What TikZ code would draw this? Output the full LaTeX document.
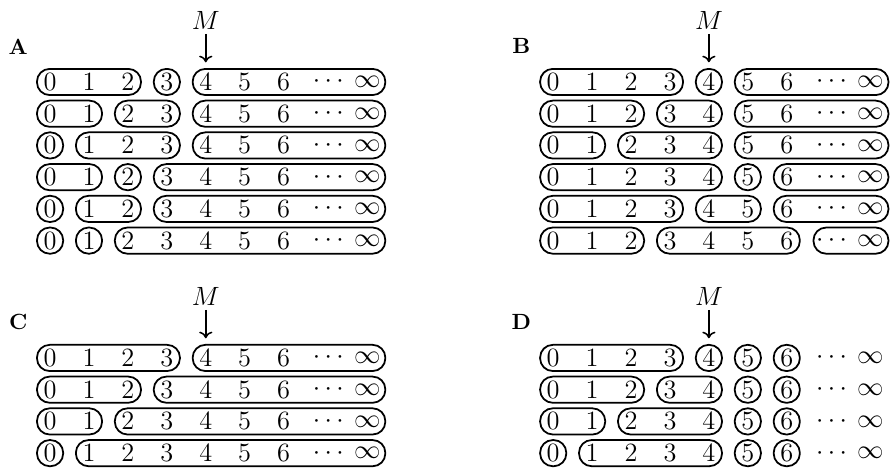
\documentclass[tikz,border=0pt]{standalone}
\usetikzlibrary{arrows.meta}

\begin{document}
\begin{tikzpicture}[x=0.622cm,y=0.507cm,
    elt/.style={inner sep=0pt,minimum width=11.5pt,minimum height=11.5pt,font=\large},
    wide/.style={elt,minimum width=16pt},
    grp/.style={draw,line width=.8pt,rounded corners=5.75pt},
    tag/.style={font=\bfseries},
    mtext/.style={inner sep=0pt,font=\large}]

  \useasboundingbox (0,0) rectangle (14.27cm,-7.48cm);

  % the four panels: name / shift / number of rows
  \foreach \p/\sx/\sy/\n in {A/0.80/-1.31/6,B/8.84/-1.31/6,C/0.80/-5.72/4,D/8.84/-5.72/4}{
    \begin{scope}[shift={(\sx cm,\sy cm)}]
      \foreach \r in {1,...,\n}{
        \foreach \c in {0,...,6}
          \node[elt] (\p\r-\c) at (\c,1-\r) {$\c$};
        \node[wide] (\p\r-7) at (7.15,1-\r) {$\cdots$};
        \node[wide] (\p\r-8) at (8.15,1-\r) {$\infty$};
      }
      \node[tag] (\p) at (-0.82,1.12) {\p};
      \node[mtext] (M\p) at (4,1.95) {$M$};
      \draw[-{To[length=3pt,width=6pt]},line width=.7pt,shorten <=2pt,shorten >=3pt] (M\p) -- (\p1-4);
    \end{scope}
  }

  % A
  \foreach \a/\b in {0/2,3/3,4/8} \draw[grp] (A1-\a.south west) rectangle (A1-\b.north east);
  \foreach \a/\b in {0/1,2/3,4/8} \draw[grp] (A2-\a.south west) rectangle (A2-\b.north east);
  \foreach \a/\b in {0/0,1/3,4/8} \draw[grp] (A3-\a.south west) rectangle (A3-\b.north east);
  \foreach \a/\b in {0/1,2/2,3/8} \draw[grp] (A4-\a.south west) rectangle (A4-\b.north east);
  \foreach \a/\b in {0/0,1/2,3/8} \draw[grp] (A5-\a.south west) rectangle (A5-\b.north east);
  \foreach \a/\b in {0/0,1/1,2/8} \draw[grp] (A6-\a.south west) rectangle (A6-\b.north east);

  % B
  \foreach \a/\b in {0/3,4/4,5/8} \draw[grp] (B1-\a.south west) rectangle (B1-\b.north east);
  \foreach \a/\b in {0/2,3/4,5/8} \draw[grp] (B2-\a.south west) rectangle (B2-\b.north east);
  \foreach \a/\b in {0/1,2/4,5/8} \draw[grp] (B3-\a.south west) rectangle (B3-\b.north east);
  \foreach \a/\b in {0/4,5/5,6/8} \draw[grp] (B4-\a.south west) rectangle (B4-\b.north east);
  \foreach \a/\b in {0/3,4/5,6/8} \draw[grp] (B5-\a.south west) rectangle (B5-\b.north east);
  \foreach \a/\b in {0/2,3/6,7/8} \draw[grp] (B6-\a.south west) rectangle (B6-\b.north east);

  % C
  \foreach \a/\b in {0/3,4/8} \draw[grp] (C1-\a.south west) rectangle (C1-\b.north east);
  \foreach \a/\b in {0/2,3/8} \draw[grp] (C2-\a.south west) rectangle (C2-\b.north east);
  \foreach \a/\b in {0/1,2/8} \draw[grp] (C3-\a.south west) rectangle (C3-\b.north east);
  \foreach \a/\b in {0/0,1/8} \draw[grp] (C4-\a.south west) rectangle (C4-\b.north east);

  % D
  \foreach \a/\b in {0/3,4/4,5/5,6/6} \draw[grp] (D1-\a.south west) rectangle (D1-\b.north east);
  \foreach \a/\b in {0/2,3/4,5/5,6/6} \draw[grp] (D2-\a.south west) rectangle (D2-\b.north east);
  \foreach \a/\b in {0/1,2/4,5/5,6/6} \draw[grp] (D3-\a.south west) rectangle (D3-\b.north east);
  \foreach \a/\b in {0/0,1/4,5/5,6/6} \draw[grp] (D4-\a.south west) rectangle (D4-\b.north east);

\end{tikzpicture}
\end{document}
